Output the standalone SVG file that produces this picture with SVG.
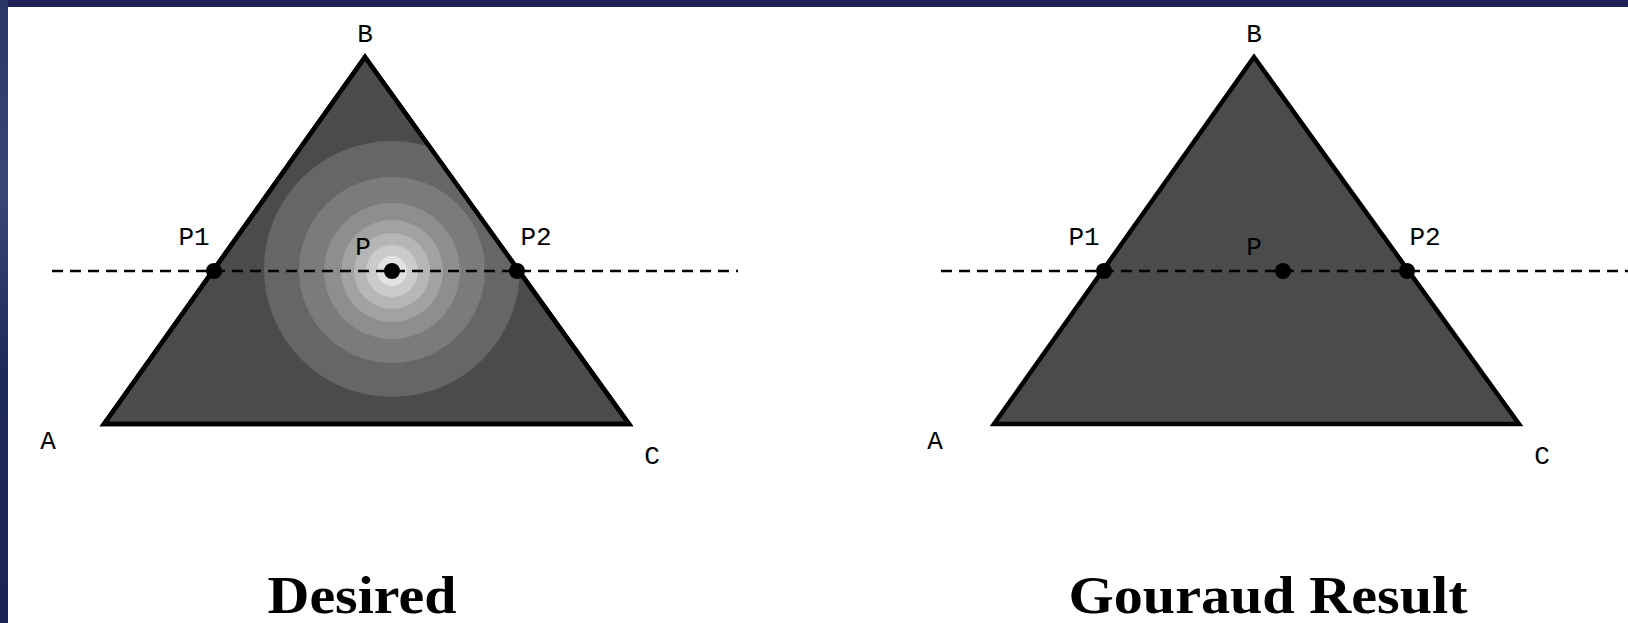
<svg xmlns="http://www.w3.org/2000/svg" width="1628" height="623" viewBox="0 0 1628 623">
<defs>
<style>
.tri{fill:#4b4b4b;stroke:#000;stroke-width:4.5;stroke-linejoin:miter}
.dash{stroke:#000;stroke-width:2.5;stroke-dasharray:11 7;fill:none}
.dot{fill:#000}
.lbl{font-family:"Liberation Mono","DejaVu Sans Mono",monospace;font-size:26px;fill:#000}
.cap{font-family:"Liberation Serif","DejaVu Serif",serif;font-weight:bold;font-size:52px;fill:#000}
</style>
<linearGradient id="navy" x1="0" y1="0" x2="0" y2="1">
<stop offset="0" stop-color="#2a3668"/>
<stop offset="0.3" stop-color="#3a4678"/>
<stop offset="0.6" stop-color="#1f2a5c"/>
<stop offset="1" stop-color="#1a2454"/>
</linearGradient>
<clipPath id="triClip"><polygon points="365,57 104,424 629,424"/></clipPath>
</defs>
<rect x="0" y="0" width="1628" height="623" fill="#ffffff"/>
<rect x="0" y="0" width="1628" height="7" fill="#1c2254"/>
<rect x="0" y="0" width="8" height="623" fill="url(#navy)"/>

<g id="desired">
<polygon class="tri" points="365,57 104,424 629,424"/>
<g clip-path="url(#triClip)">
<circle cx="392" cy="269" r="128" fill="#666666"/>
<circle cx="392" cy="270" r="93" fill="#7b7b7b"/>
<circle cx="392" cy="271" r="68" fill="#8e8e8e"/>
<circle cx="392" cy="271" r="51" fill="#a2a2a2"/>
<circle cx="392" cy="271" r="38" fill="#b6b6b6"/>
<circle cx="392" cy="271" r="26" fill="#cbcbcb"/>
<circle cx="392" cy="271" r="15" fill="#e2e2e2"/>
<circle cx="392" cy="271" r="7" fill="#f5f5f5"/>
</g>
<polygon points="365,57 104,424 629,424" fill="none" stroke="#000" stroke-width="4.5"/>
<text class="lbl" x="365" y="42" text-anchor="middle">B</text>
<text class="lbl" x="48" y="449" text-anchor="middle">A</text>
<text class="lbl" x="652" y="464" text-anchor="middle">C</text>
<text class="lbl" x="194" y="245" text-anchor="middle">P1</text>
<text class="lbl" x="363" y="255" text-anchor="middle">P</text>
<text class="lbl" x="536" y="245" text-anchor="middle">P2</text>
<text class="cap" x="362" y="613" text-anchor="middle" textLength="189" lengthAdjust="spacingAndGlyphs">Desired</text>
</g>

<g id="gouraud">
<polygon class="tri" points="1254,57 994,424 1519,424"/>
<text class="lbl" x="1254" y="42" text-anchor="middle">B</text>
<text class="lbl" x="935" y="449" text-anchor="middle">A</text>
<text class="lbl" x="1542" y="464" text-anchor="middle">C</text>
<text class="lbl" x="1084" y="245" text-anchor="middle">P1</text>
<text class="lbl" x="1254" y="255" text-anchor="middle">P</text>
<text class="lbl" x="1425" y="245" text-anchor="middle">P2</text>
<text class="cap" x="1268" y="613" text-anchor="middle" textLength="399" lengthAdjust="spacingAndGlyphs">Gouraud Result</text>
</g>

<g id="connectors">
<line class="dash" x1="52" y1="271" x2="738" y2="271"/>
<line class="dash" x1="941" y1="271" x2="1628" y2="271"/>
<circle class="dot" cx="214" cy="271" r="8"/>
<circle class="dot" cx="392" cy="271" r="8"/>
<circle class="dot" cx="517" cy="271" r="8"/>
<circle class="dot" cx="1104" cy="271" r="8"/>
<circle class="dot" cx="1283" cy="271" r="8"/>
<circle class="dot" cx="1407" cy="271" r="8"/>
</g>
</svg>
